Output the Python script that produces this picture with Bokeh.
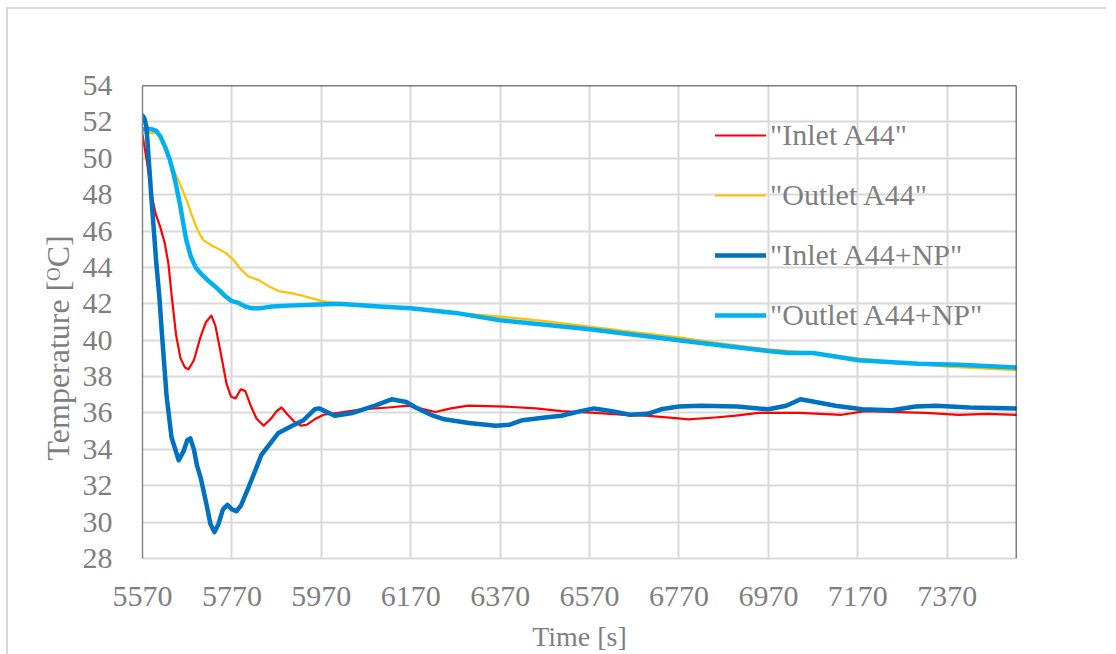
from bokeh.plotting import figure
from bokeh.models import FixedTicker, Range1d, Span, Legend, LegendItem, Title
from bokeh.embed import file_html
from bokeh.resources import INLINE

# ---- data ----
x_ticks = [5570, 5770, 5970, 6170, 6370, 6570, 6770, 6970, 7170, 7370]
y_ticks = list(range(28, 55, 2))

inlet_a44_t = [5570, 5580, 5590, 5600, 5610, 5620, 5628, 5635, 5645, 5655, 5665, 5673, 5685, 5700,
               5712, 5724, 5733, 5745, 5758, 5768, 5778, 5790, 5800, 5812, 5825, 5841, 5858, 5870,
               5881, 5895, 5910, 5925, 5937, 5955, 5975, 6008, 6060, 6120, 6165, 6200, 6225, 6260,
               6299, 6382, 6450, 6507, 6583, 6650, 6695, 6769, 6791, 6850, 6897, 6948, 7040, 7134,
               7187, 7260, 7322, 7396, 7460, 7525]
inlet_a44_v = [51.3, 49.8, 48.0, 46.9, 46.2, 45.3, 44.2, 42.5, 40.3, 39.0, 38.5, 38.4, 38.9, 40.2,
               41.0, 41.35, 40.8, 39.3, 37.6, 36.9, 36.8, 37.3, 37.2, 36.4, 35.7, 35.3, 35.7, 36.1,
               36.3, 35.9, 35.5, 35.3, 35.35, 35.65, 35.9, 36.0, 36.2, 36.3, 36.4, 36.2, 36.05, 36.25,
               36.4, 36.35, 36.25, 36.1, 36.0, 35.9, 35.85, 35.7, 35.65, 35.75, 35.85, 36.0, 36.0, 35.9,
               36.1, 36.05, 36.0, 35.9, 35.95, 35.9]

outlet_a44_t = [5570, 5600, 5612, 5622, 5635, 5657, 5670, 5680, 5692, 5706, 5725, 5745, 5756, 5774,
                5790, 5807, 5830, 5850, 5874, 5900, 5935, 5970, 6000, 6070, 6170, 6270, 6370, 6470,
                6570, 6670, 6770, 6870, 6970, 7070, 7170, 7270, 7370, 7525]
outlet_a44_v = [51.4, 51.4, 51.1, 50.4, 49.6, 48.4, 47.6, 46.9, 46.1, 45.5, 45.2, 44.95, 44.8, 44.4,
                43.9, 43.5, 43.3, 43.0, 42.7, 42.6, 42.4, 42.15, 42.05, 41.9, 41.75, 41.5, 41.3, 41.05,
                40.75, 40.45, 40.15, 39.8, 39.5, 39.3, 39.0, 38.75, 38.55, 38.35]

inlet_np_t = [5570, 5574, 5579, 5590, 5601, 5608, 5613, 5624, 5635, 5651, 5662, 5670, 5677, 5685,
              5692, 5700, 5712, 5722, 5731, 5740, 5750, 5760, 5770, 5780, 5790, 5807, 5836, 5874,
              5905, 5930, 5955, 5965, 6000, 6040, 6090, 6127, 6160, 6181, 6215, 6245, 6300, 6360,
              6390, 6420, 6470, 6507, 6550, 6580, 6620, 6660, 6700, 6730, 6770, 6820, 6900, 6970,
              7010, 7042, 7075, 7120, 7180, 7246, 7300, 7344, 7420, 7525]
inlet_np_v = [52.35, 52.2, 51.7, 47.8, 44.2, 42.3, 40.5, 36.9, 34.65, 33.4, 33.9, 34.5, 34.6, 34.0,
              33.1, 32.45, 31.1, 29.9, 29.45, 29.9, 30.7, 30.95, 30.7, 30.6, 30.9, 31.9, 33.7, 34.9,
              35.3, 35.6, 36.2, 36.25, 35.85, 36.0, 36.4, 36.75, 36.6, 36.3, 35.9, 35.65, 35.45, 35.3,
              35.35, 35.6, 35.75, 35.85, 36.1, 36.25, 36.1, 35.9, 35.95, 36.2, 36.35, 36.4, 36.35, 36.2,
              36.4, 36.75, 36.6, 36.4, 36.2, 36.15, 36.35, 36.4, 36.3, 36.25]

outlet_np_t = [5570, 5590, 5601, 5610, 5621, 5630, 5639, 5647, 5655, 5662, 5668, 5678, 5689, 5703,
               5718, 5735, 5756, 5770, 5785, 5800, 5815, 5830, 5860, 5897, 5950, 6008, 6100, 6170,
               6270, 6370, 6470, 6570, 6670, 6770, 6870, 6970, 7015, 7070, 7172, 7306, 7396, 7525]
outlet_np_v = [51.6, 51.6, 51.5, 51.2, 50.6, 50.0, 49.2, 48.3, 47.3, 46.3, 45.5, 44.6, 44.0, 43.6,
               43.25, 42.9, 42.4, 42.15, 42.05, 41.85, 41.75, 41.75, 41.85, 41.9, 41.95, 42.0, 41.85,
               41.75, 41.5, 41.1, 40.85, 40.6, 40.3, 40.0, 39.7, 39.4, 39.3, 39.3, 38.9, 38.7, 38.65,
               38.5]

series_names = ['"Inlet A44"', '"Outlet A44"', '"Inlet A44+NP"', '"Outlet A44+NP"']
series_colors = ["#FF0000", "#FFC000", "#0070C0", "#00B0F0"]
series_widths = [2.2, 2.2, 4.5, 4.5]

X_MIN, X_MAX = 5570, 7525
Y_MIN, Y_MAX = 28, 54

FONT = "Liberation Serif"
GRAY = "#7f7f7f"

p = figure(frame_width=874, frame_height=473, output_backend="svg", toolbar_location=None,
           x_range=Range1d(X_MIN, X_MAX), y_range=Range1d(Y_MIN, Y_MAX),
           min_border_left=134, min_border_top=76, min_border_right=90, min_border_bottom=80,
           styles={"border-left": "2px solid #d9d9d9", "border-top": "2px solid #d9d9d9",
                   "margin-left": "6px", "margin-top": "7px"})
p.outline_line_color = None
p.background_fill_color = "white"

# grid
p.xaxis.ticker = FixedTicker(ticks=x_ticks)
p.yaxis.ticker = FixedTicker(ticks=y_ticks)
for g in (p.xgrid, p.ygrid):
    g.grid_line_color = "#d9d9d9"
    g.grid_line_width = 2

# axes
for ax in (p.xaxis, p.yaxis):
    ax.major_tick_line_color = None
    ax.minor_tick_line_color = None
    ax.major_label_text_font = FONT
    ax.major_label_text_font_size = "30px"
    ax.major_label_text_color = GRAY
    ax.axis_label_text_font = FONT
    ax.axis_label_text_font_style = "normal"
    ax.axis_label_text_color = GRAY
p.xaxis.axis_line_color = "#d9d9d9"
p.xaxis.axis_line_width = 2
p.yaxis.axis_line_color = "#868686"
p.yaxis.axis_line_width = 1.5
p.xaxis.axis_label = "Time [s]"
p.xaxis.axis_label_text_font_size = "28px"
p.xaxis.major_label_standoff = 22
p.xaxis.axis_label_standoff = 12
p.yaxis.major_label_standoff = 24

# y-axis title as a side title, placed slightly below centre like the reference
ytitle = Title(text="Temperature [\u1d3cC]", align="left", offset=98,
               text_font=FONT, text_font_size="32px", text_font_style="normal",
               text_color=GRAY, standoff=8)
p.add_layout(ytitle, "left")

# top / right frame lines
p.add_layout(Span(location=Y_MAX, dimension="width", line_color="black", line_width=1.5))
p.add_layout(Span(location=X_MAX, dimension="height", line_color="black", line_width=1.5))

data = [(inlet_a44_t, inlet_a44_v), (outlet_a44_t, outlet_a44_v),
        (inlet_np_t, inlet_np_v), (outlet_np_t, outlet_np_v)]
rmap = {}
for i in [0, 1, 3, 2]:
    t, v = data[i]
    rmap[i] = p.line(t, v, line_color=series_colors[i], line_width=series_widths[i],
                     line_join="round", line_cap="round")

items = [LegendItem(label=series_names[i], renderers=[rmap[i]]) for i in range(4)]
legend = Legend(items=items, location=(573, 226))
legend.label_text_font = FONT
legend.label_text_font_size = "30px"
legend.label_text_color = GRAY
legend.glyph_width = 51
legend.glyph_height = 34
legend.label_height = 34
legend.spacing = 26
legend.label_standoff = 4
legend.padding = 0
legend.margin = 0
legend.background_fill_alpha = 0
legend.border_line_color = None
p.add_layout(legend, "center")

open("out.html", "w").write(file_html(p, INLINE))
